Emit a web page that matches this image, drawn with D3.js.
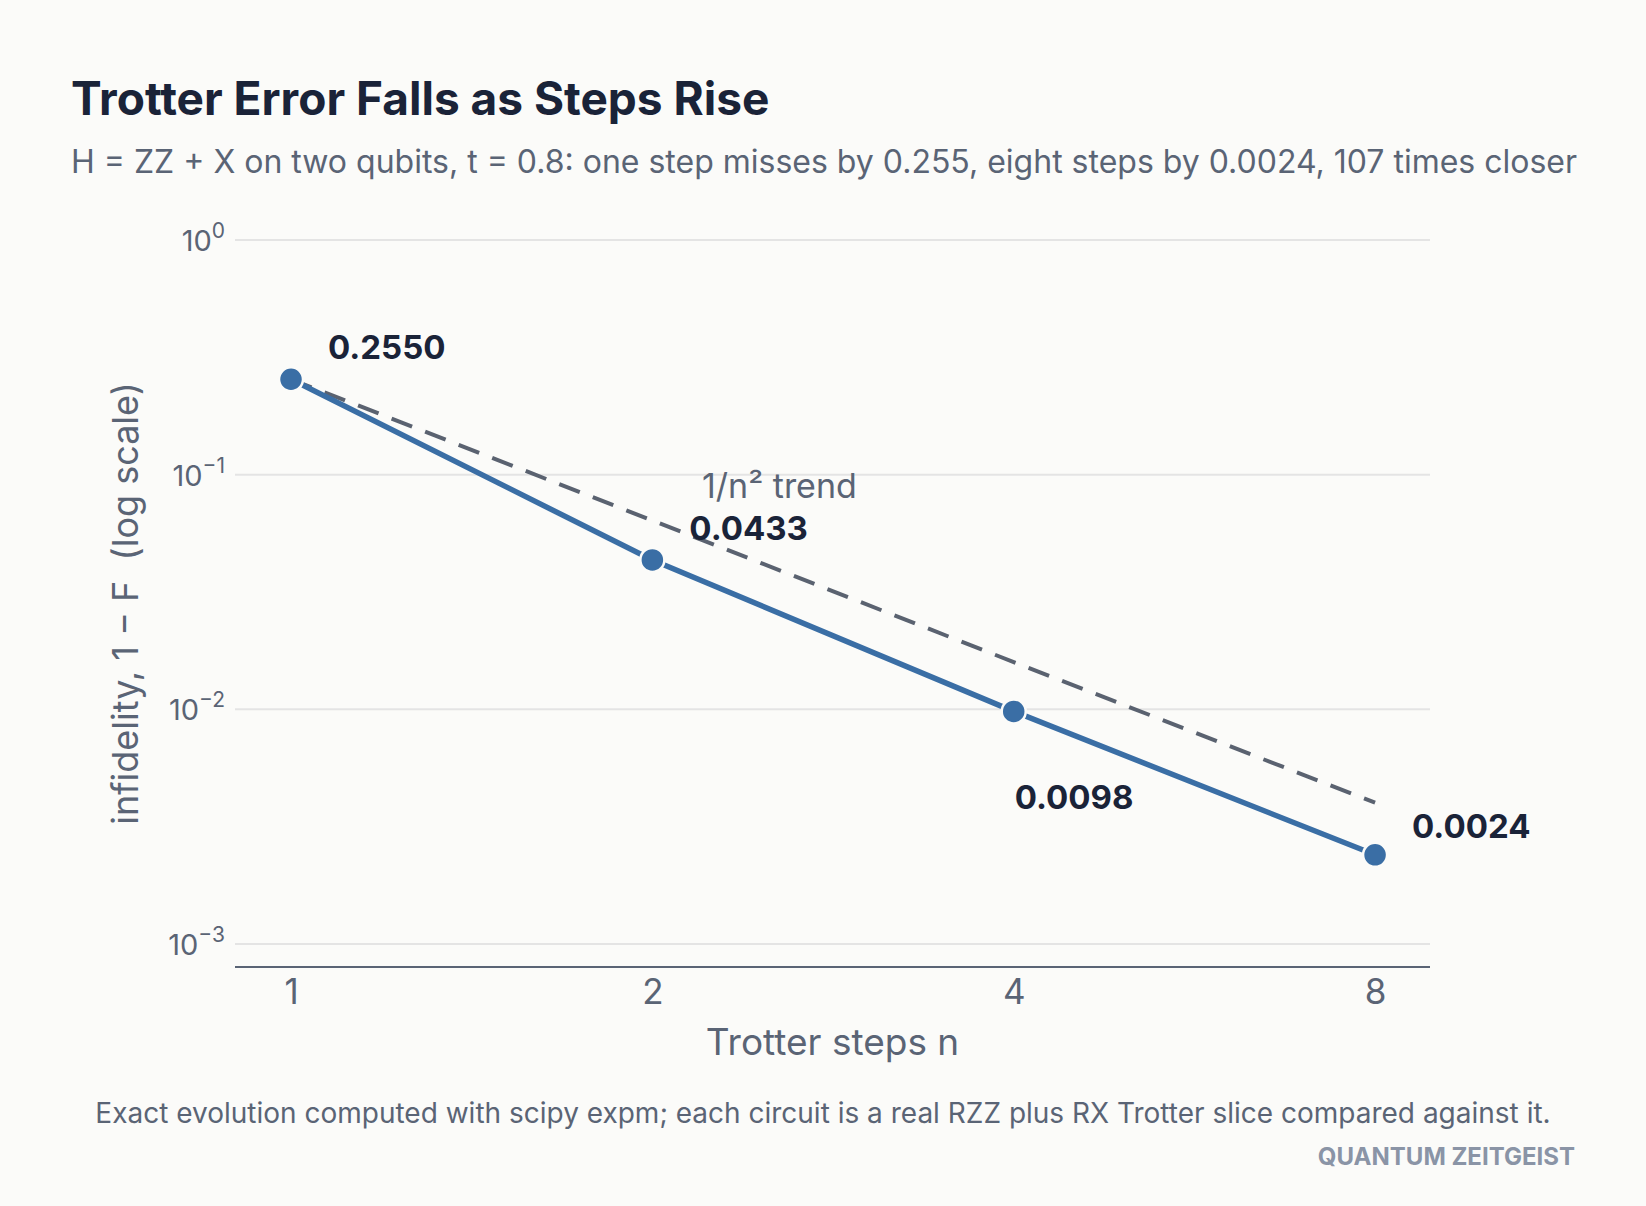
<!DOCTYPE html>
<html>
<head>
<meta charset="UTF-8">
<title>Trotter Error Falls as Steps Rise</title>
<script src="https://cdnjs.cloudflare.com/ajax/libs/d3/7.8.5/d3.min.js"></script>
<style>
body { margin:0; background:#fbfbf9; }
text { font-family: Inter, "Noto Sans", sans-serif; }
.grid line { stroke:#e4e4e4; stroke-width:2; }
</style>
</head>
<body>
<div id="chart"></div>
<script>
// data
var steps = [1, 2, 4, 8];
var infidelity = [0.2550, 0.0433, 0.0098, 0.0024];
var trend = [0.2550, 0.0638, 0.0159, 0.0040]; // 1/n^2 reference from n=1
var labels = ["0.2550", "0.0433", "0.0098", "0.0024"];
var yTicks = [0, -1, -2, -3]; // exponents

var width = 1646, height = 1206;
var mLeft = 235, mRight = 1430, mTop = 240, mBottom = 967;

var svg = d3.select("#chart").append("svg").attr("width", width).attr("height", height);
svg.append("rect").attr("width", width).attr("height", height).attr("fill", "#fbfbf9");

var x = d3.scaleLog().base(2).domain([Math.pow(2, -0.155), Math.pow(2, 3.152)]).range([mLeft, mRight]);
var y = d3.scaleLog().domain([Math.pow(10, -3.098), 1]).range([mBottom, mTop]);

// titles
svg.append("text").attr("x", 71).attr("y", 115)
  .style("font-size", "46px").style("font-weight", 700).attr("fill", "#1a2338")
  .text("Trotter Error Falls as Steps Rise");
svg.append("text").attr("x", 71).attr("y", 173)
  .style("font-size", "32px").attr("fill", "#5a6475")
  .text("H = ZZ + X on two qubits, t = 0.8: one step misses by 0.255, eight steps by 0.0024, 107 times closer");

// grid + y tick labels
var g = svg.append("g").attr("class", "grid");
g.selectAll("line").data(yTicks).enter().append("line")
  .attr("x1", mLeft).attr("x2", mRight)
  .attr("y1", function(d){ return y(Math.pow(10, d)); })
  .attr("y2", function(d){ return y(Math.pow(10, d)); });

var yt = svg.selectAll(".ytick").data(yTicks).enter().append("text")
  .attr("class", "ytick")
  .attr("x", 225).attr("y", function(d){ return y(Math.pow(10, d)) + 11; })
  .attr("text-anchor", "end").attr("fill", "#5a6475").style("font-size", "29px");
yt.append("tspan").text("10");
yt.append("tspan").attr("dy", -13).style("font-size", "21px")
  .text(function(d){ return d === 0 ? "0" : "\u2212" + (-d); });

// x axis
svg.append("line").attr("x1", mLeft).attr("x2", mRight).attr("y1", mBottom).attr("y2", mBottom)
  .attr("stroke", "#5a6475").attr("stroke-width", 2);
var xAxis = d3.axisBottom(x).tickValues(steps).tickFormat(d3.format("d")).tickSize(0).tickPadding(0);
var xa = svg.append("g").attr("transform", "translate(0," + mBottom + ")").call(xAxis);
xa.select(".domain").remove();
xa.selectAll("text").attr("y", 37).attr("dy", 0)
  .style("font-size", "35px").style("font-family", "Inter, 'Noto Sans', sans-serif").attr("fill", "#5a6475");

svg.append("text").attr("x", (mLeft + mRight) / 2).attr("y", 1055).attr("text-anchor", "middle")
  .style("font-size", "37px").attr("fill", "#5a6475").text("Trotter steps n");
svg.append("text").attr("transform", "translate(138," + (mTop + mBottom) / 2 + ") rotate(-90)")
  .attr("text-anchor", "middle").style("font-size", "36px").attr("fill", "#5a6475")
  .style("white-space", "pre")
  .text("infidelity, 1 \u2212 F  (log scale)");

// trend line
var line = d3.line().x(function(d, i){ return x(steps[i]); }).y(function(d){ return y(d); });
svg.append("path").datum(trend).attr("d", line).attr("fill", "none")
  .attr("stroke", "#5a6270").attr("stroke-width", 4).attr("stroke-dasharray", "22,14");
svg.append("text").attr("x", 702).attr("y", 498).style("font-size", "34px").attr("fill", "#5a6475")
  .text("1/n\u00b2 trend");

// data line + points
svg.append("path").datum(infidelity).attr("d", line).attr("fill", "none")
  .attr("stroke", "#3a6ea5").attr("stroke-width", 5.5);
svg.selectAll(".pt").data(infidelity).enter().append("circle").attr("class", "pt")
  .attr("cx", function(d, i){ return x(steps[i]); }).attr("cy", function(d){ return y(d); })
  .attr("r", 12).attr("fill", "#3a6ea5").attr("stroke", "#fbfbf9").attr("stroke-width", 2.5);

svg.selectAll(".lbl").data(infidelity).enter().append("text").attr("class", "lbl")
  .attr("x", function(d, i){ return x(steps[i]) + (i === 2 ? 1 : 37); })
  .attr("y", function(d, i){ return y(d) + (i === 2 ? 98 : (i === 3 ? -17 : -20)); })
  .style("font-size", "33px").style("font-weight", 700).attr("fill", "#1a2338")
  .text(function(d, i){ return labels[i]; });

// footer
svg.append("text").attr("x", 823).attr("y", 1123).attr("text-anchor", "middle")
  .style("font-size", "28px").attr("fill", "#5a6475")
  .text("Exact evolution computed with scipy expm; each circuit is a real RZZ plus RX Trotter slice compared against it.");
svg.append("text").attr("x", 1575).attr("y", 1165).attr("text-anchor", "end")
  .style("font-size", "24px").style("font-weight", 700).attr("fill", "#8a94a6")
  .text("QUANTUM ZEITGEIST");
</script>
</body>
</html>
